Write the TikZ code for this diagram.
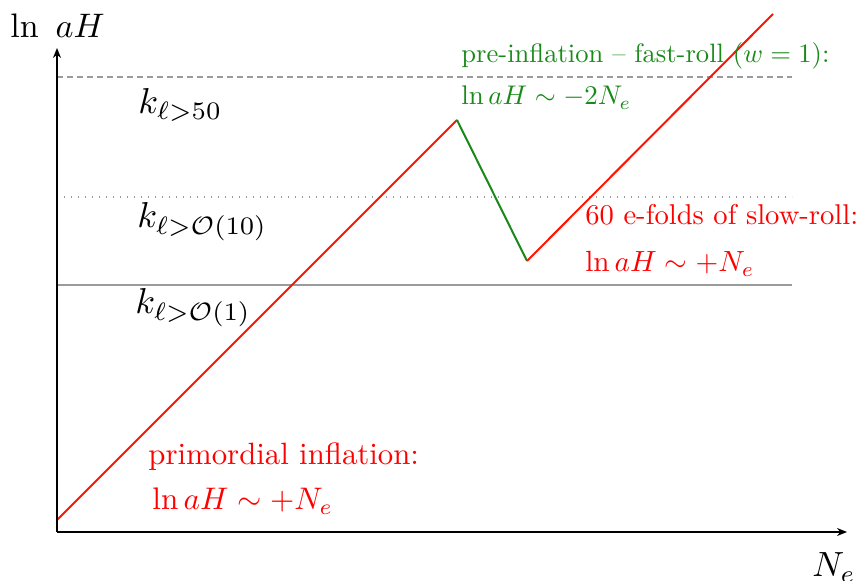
\documentclass[tikz,border=0pt]{standalone}
\usepackage{amsmath}
\usepackage{graphicx}
\usetikzlibrary{arrows.meta}
\definecolor{fgreen}{RGB}{25,138,25}
\definecolor{lgray}{RGB}{155,155,155}
\definecolor{lred}{RGB}{255,20,0}
\newcommand{\sbx}[2]{\scalebox{#1}{#2}}
\begin{document}
\begin{tikzpicture}[x=0.5pt,y=-0.5pt,
  axis/.style={line width=1.3pt,-{Stealth[length=5pt,width=4pt]}},
  level/.style={lgray,line width=1pt},
  lbl/.style={anchor=base west,inner sep=0pt,font=\fontsize{10}{12}\selectfont},
  curve/.style={line width=1pt}]
\useasboundingbox (0,0) rectangle (861,581);
\coordinate (O) at (57,532);
\coordinate (ytop) at (57,48);
\coordinate (xend) at (847,532);
% levels
\coordinate (d1) at (57,77);  \coordinate (d2) at (792,77);
\coordinate (p1) at (57,197); \coordinate (p2) at (792,197);
\coordinate (s1) at (57,285); \coordinate (s2) at (792,285);
\draw[level,dash pattern=on 3pt off 2pt] (d1) -- (d2);
\draw[level,line width=0.7pt,dash pattern=on 0.7pt off 2.8pt] (p1) -- (p2);
\draw[level] (s1) -- (s2);
% curve
\coordinate (c0) at (57,520);
\coordinate (c1) at (457,120);
\coordinate (c2) at (527,261);
\coordinate (c3) at (773,14);
\draw[curve,lred] (c0) -- (c1);
\draw[curve,fgreen] (c1) -- (c2);
\draw[curve,lred] (c2) -- (c3);
% axes
\draw[axis] (O) -- (ytop);
\draw[axis] (O) -- (xend);
\node[lbl] (ylab) at (10,38) {\sbx{1.7}{$\ln\ aH$}};
\node[lbl] (xlab) at (812,577) {\sbx{1.75}{$N_e$}};
% k labels
\node[lbl] (k50) at (138,114) {\sbx{1.8}{$k_{\ell>50}$}};
\node[lbl] (k10) at (137,228) {\sbx{1.8}{$k_{\ell>\mathcal{O}(10)}$}};
\node[lbl] (k1) at (135,314) {\sbx{1.8}{$k_{\ell>\mathcal{O}(1)}$}};
% annotations
\node[lbl,red] (prim1) at (148,465) {\sbx{1.54}{primordial inflation:}};
\node[lbl,red] (prim2) at (152,510) {\sbx{1.56}{$\ln aH\sim +N_e$}};
\node[lbl,red] (slow1) at (585,225) {\sbx{1.43}{60 e-folds of slow-roll:}};
\node[lbl,red] (slow2) at (585,272) {\sbx{1.46}{$\ln aH\sim +N_e$}};
\node[lbl,fgreen] (pre1) at (461,63) {\sbx{1.33}{pre-inflation -- fast-roll $(w=1)$:}};
\node[lbl,fgreen] (pre2) at (461,105) {\sbx{1.35}{$\ln aH\sim -2N_e$}};
\end{tikzpicture}
\end{document}
